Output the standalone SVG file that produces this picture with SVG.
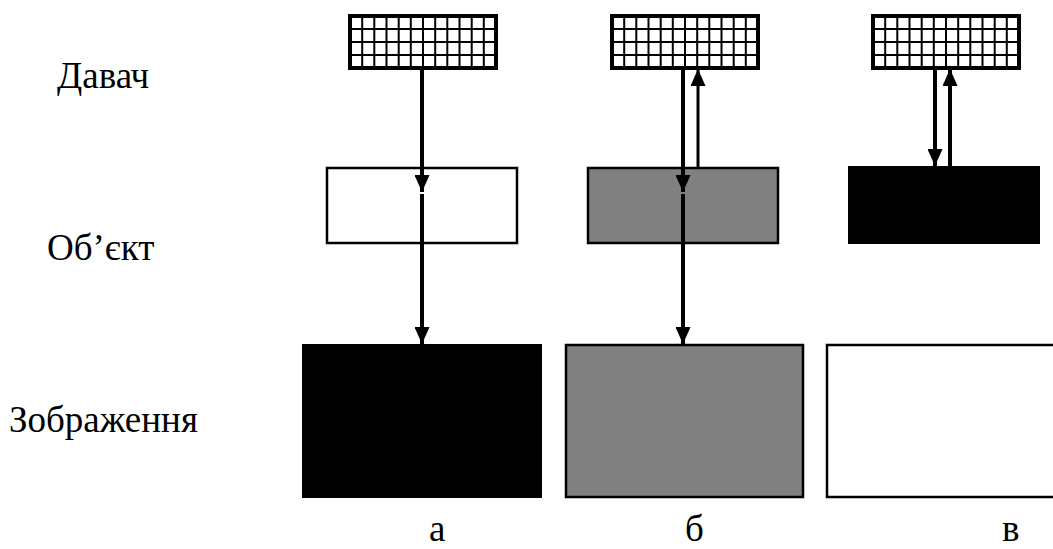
<svg xmlns="http://www.w3.org/2000/svg" xmlns:xlink="http://www.w3.org/1999/xlink" width="1053" height="549" viewBox="0 0 1053 549">
<style>
.lbl{font-family:"Liberation Serif","Times New Roman","DejaVu Serif",serif;font-size:37px;fill:#000}
.box{stroke:#000;stroke-width:2.5}
.arr{stroke:#000;stroke-width:4;fill:none}
.arrT{stroke:#000;stroke-width:3;fill:none}
.grid{stroke:#000;stroke-width:2;fill:none}
</style>
<defs>
<marker id="ah" markerUnits="userSpaceOnUse" markerWidth="17" markerHeight="15" refX="17" refY="7.5" orient="auto" viewBox="0 0 17 15">
<path d="M0,0 L17,7.5 L0,15 Z" fill="#000"/>
</marker>
<g id="sensor">
<rect x="0" y="0" width="146" height="52" fill="#fff" stroke="#000" stroke-width="4"/>
<path class="grid" d="M12.2,0V52M24.3,0V52M36.5,0V52M48.7,0V52M60.8,0V52M73,0V52M85.2,0V52M97.3,0V52M109.5,0V52M121.7,0V52M133.8,0V52M0,13H146M0,26H146M0,39H146"/>
</g>
</defs>
<rect width="1053" height="549" fill="#fff"/>
<g id="labels">
<text class="lbl" x="57" y="88">Давач</text>
<text class="lbl" x="47" y="260">Об’єкт</text>
<text class="lbl" x="9" y="432">Зображення</text>
<text class="lbl" x="429" y="541">а</text>
<text class="lbl" x="685" y="541">б</text>
<text class="lbl" x="1002" y="541">в</text>
</g>
<g id="sensor-a"><use xlink:href="#sensor" href="#sensor" x="350" y="16"/></g>
<g id="sensor-b"><use xlink:href="#sensor" href="#sensor" x="612" y="16"/></g>
<g id="sensor-c"><use xlink:href="#sensor" href="#sensor" x="873" y="16"/></g>
<g id="object-a"><rect class="box" x="327" y="168" width="190" height="75" fill="#fff"/></g>
<g id="object-b"><rect class="box" x="588" y="168" width="190" height="75" fill="#808080"/></g>
<g id="object-c"><rect x="848" y="166" width="192" height="78" fill="#000"/></g>
<g id="image-a"><rect x="302" y="344" width="240" height="154" fill="#000"/></g>
<g id="image-b"><rect class="box" x="566" y="345" width="237" height="152" fill="#808080"/></g>
<g id="image-c"><rect class="box" x="827" y="345" width="240" height="152" fill="#fff"/></g>
<g id="connectors">
<line class="arr" x1="422" y1="69" x2="422" y2="192" marker-end="url(#ah)"/>
<line class="arr" x1="422" y1="194" x2="422" y2="344" marker-end="url(#ah)"/>
<line class="arr" x1="683" y1="69" x2="683" y2="192" marker-end="url(#ah)"/>
<line class="arr" x1="683" y1="194" x2="683" y2="344" marker-end="url(#ah)"/>
<line class="arrT" x1="698" y1="168" x2="698" y2="69" marker-end="url(#ah)"/>
<line class="arr" x1="935" y1="69" x2="935" y2="166" marker-end="url(#ah)"/>
<line class="arr" x1="950" y1="166" x2="950" y2="69" marker-end="url(#ah)"/>
</g>
</svg>
